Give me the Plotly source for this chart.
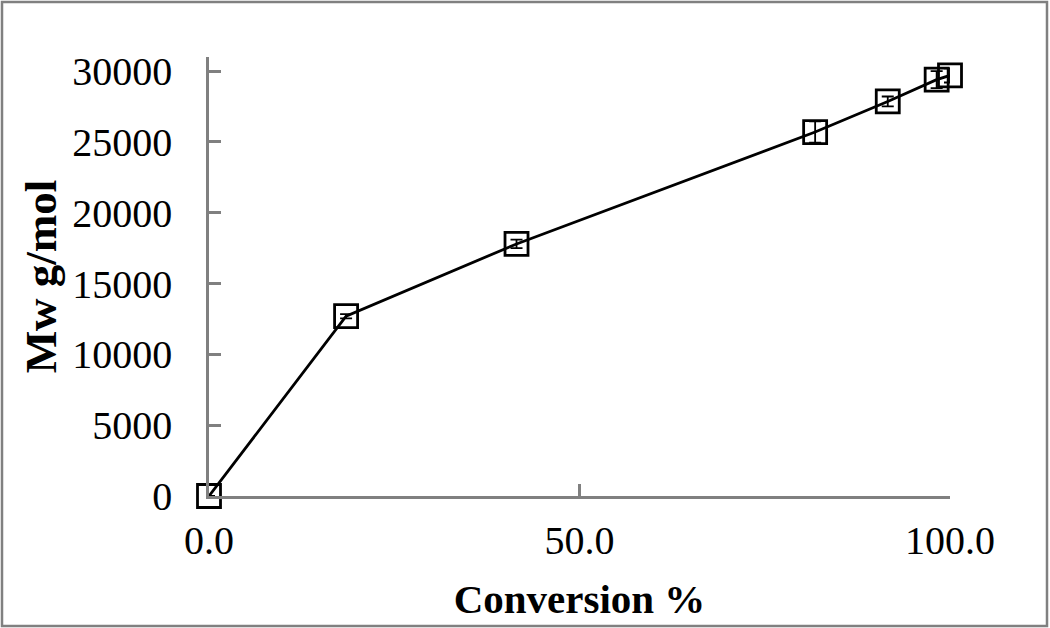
import plotly.graph_objects as go

conversion = [0.0, 18.5, 41.5, 81.8, 91.6, 98.2, 100.0]
mw = [0, 12700, 17800, 25700, 27860, 29400, 29700]
mw_err = [0, 150, 300, 750, 350, 600, 500]

fig = go.Figure()
fig.add_trace(go.Scatter(
    x=conversion, y=mw,
    mode="lines+markers",
    line=dict(color="black", width=2.8),
    marker=dict(symbol="square-open", size=23, color="black", line=dict(width=2.8)),
    error_y=dict(type="data", array=mw_err, color="black", thickness=1.8, width=6),
    cliponaxis=False,
    showlegend=False,
))

tick_font = dict(family="Liberation Serif", size=40, color="black")
title_font = dict(family="Liberation Serif", size=41, color="black")

fig.update_xaxes(
    range=[0, 100], dtick=50, tickformat=".1f",
    showgrid=False, zeroline=False, automargin=False,
    showline=True, linecolor="#808080", linewidth=2.5,
    ticks="inside", ticklen=12, tickwidth=2.5, tickcolor="#808080",
    tickfont=tick_font, ticklabelstandoff=7,
    title=dict(text="<b>Conversion %</b>", font=title_font, standoff=23),
)
fig.update_yaxes(
    range=[0, 31000], tickvals=[0, 5000, 10000, 15000, 20000, 25000, 30000],
    ticktext=["0", "5000", "10000", "15000", "20000", "25000", "30000"],
    showgrid=False, zeroline=False, automargin=False,
    showline=True, linecolor="#808080", linewidth=2.5,
    ticks="inside", ticklen=12, tickwidth=2.5, tickcolor="#808080",
    tickfont=tick_font, ticklabelstandoff=26,
    title=dict(text="<b>Mw g/mol</b>",
               font=dict(family="Liberation Serif", size=45, color="black"), standoff=2),
)

# outer frame around the whole picture
fig.add_shape(type="rect", xref="paper", yref="paper",
              x0=(2 - 209) / 741, x1=(1047 - 209) / 741,
              y0=-(626 - 496) / 439, y1=(496 - 2) / 439,
              line=dict(color="#808080", width=2.5))

fig.update_layout(
    width=1050, height=628,
    margin=dict(l=209, r=100, t=57, b=132),
    paper_bgcolor="white", plot_bgcolor="white",
    font=dict(family="Liberation Serif"),
)

fig.write_html("out.html", config={"displayModeBar": False},
               post_script="document.body.style.margin='0px';")
